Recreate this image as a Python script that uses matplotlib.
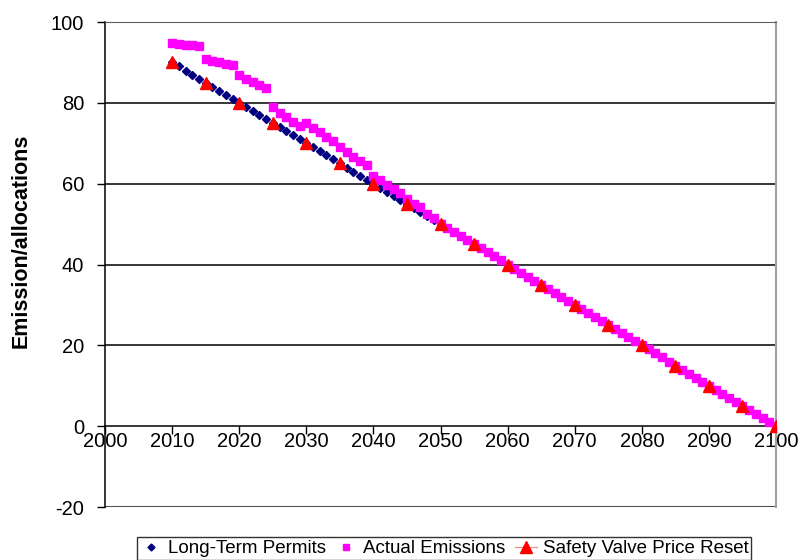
import numpy as np
import matplotlib.pyplot as plt
from matplotlib.lines import Line2D

plt.rcParams['font.family'] = ['Liberation Sans', 'DejaVu Sans']
plt.rcParams['axes.unicode_minus'] = False

# long-term permits, one per year
permit_years = np.arange(2010, 2101)
permits = np.linspace(90, 0, len(permit_years))

# actual emissions (2010-2049), then on the permit line
emission_years = np.arange(2010, 2101)
emissions_early = [94.8, 94.6, 94.4, 94.2, 94.0,
                   90.8, 90.4, 90.0, 89.7, 89.3,
                   87.0, 86.0, 85.1, 84.5, 83.7,
                   78.9, 77.6, 76.5, 75.2, 74.2,
                   74.9, 73.8, 72.7, 71.6, 70.5, 69.0, 67.9, 66.7, 65.7, 64.6,
                   61.9, 60.9, 59.7, 58.6, 57.6, 56.1, 55.0, 54.2, 52.6, 51.4]
emissions_late = [50, 49, 48, 47, 46, 45, 44, 43, 42, 41,
                  40, 39, 38, 37, 36, 35, 34, 33, 32, 31,
                  30, 29, 28, 27, 26, 25, 24, 23, 22, 21,
                  20, 19, 18, 17, 16, 15, 14, 13, 12, 11,
                  10, 9, 8, 7, 6, 5, 4, 3, 2, 1, 0]
emissions = emissions_early + emissions_late

# safety valve price reset points every 5 years
reset_years = np.arange(2010, 2101, 5)
reset_values = [90, 85, 80, 75, 70, 65, 60, 55, 50, 45,
                40, 35, 30, 25, 20, 15, 10, 5, 0]

fig = plt.figure(figsize=(8.02, 5.60), dpi=100)
ax = fig.add_axes([0.131, 0.0946, 0.8366, 0.8661])

for y in [20, 40, 60, 80, 100]:
    ax.axhline(y, color='black', lw=1.1, zorder=1)
ax.axhline(-20, color='#505050', lw=1.5, zorder=1)

ax.plot(permit_years, permits, 'D', color='#000080', ms=4.2, mec='#000080', zorder=3)
ax.plot(emission_years, emissions, 's', color='#ff00ff', ms=5.5, mec='#ff00ff', zorder=4)
ax.plot(reset_years, reset_values, '^', color='#ff0000', ms=9, mec='#ff0000', zorder=5)

ax.set_xlim(2000, 2100)
ax.set_ylim(-20, 100)
ax.set_xticks(np.arange(2000, 2101, 10))
ax.set_yticks(np.arange(-20, 101, 20))

ax.spines['bottom'].set_position(('data', 0))
ax.spines['bottom'].set_linewidth(1.1)
ax.spines['left'].set_linewidth(1.1)
ax.spines['top'].set_color('#606060')
ax.spines['right'].set_color('#a0a0a0')
ax.spines['right'].set_linewidth(1.5)

ax.tick_params(axis='y', direction='out', length=6, width=1, labelsize=14.5, pad=9)
ax.tick_params(axis='x', direction='out', length=6, width=1, labelsize=14.5, pad=-2)

ax.set_ylabel('Emission/allocations', fontsize=15.5, fontweight='bold')
ax.yaxis.set_label_coords(-0.109, 0.548)

handles = [
    Line2D([], [], marker='D', ls='none', color='#000080', ms=3.5),
    Line2D([], [], marker='s', ls='none', color='#ff00ff', ms=5),
    Line2D([], [], marker='^', ls='-', lw=0.8, color='#ff8080', mfc='#ff0000', mec='#ff0000', ms=8),
]
labels = ['Long-Term Permits', 'Actual Emissions', 'Safety Valve Price Reset']
leg = fig.legend(handles, labels, loc='upper center', bbox_to_anchor=(0.5536, 0.0405),
                 ncol=3, fontsize=13.5, frameon=True, fancybox=False, edgecolor='black',
                 handlelength=1.2, handletextpad=0.3, columnspacing=0.5,
                 borderpad=0.15, borderaxespad=0)
leg.get_frame().set_linewidth(1.0)

fig.savefig('out.png', dpi=100)
